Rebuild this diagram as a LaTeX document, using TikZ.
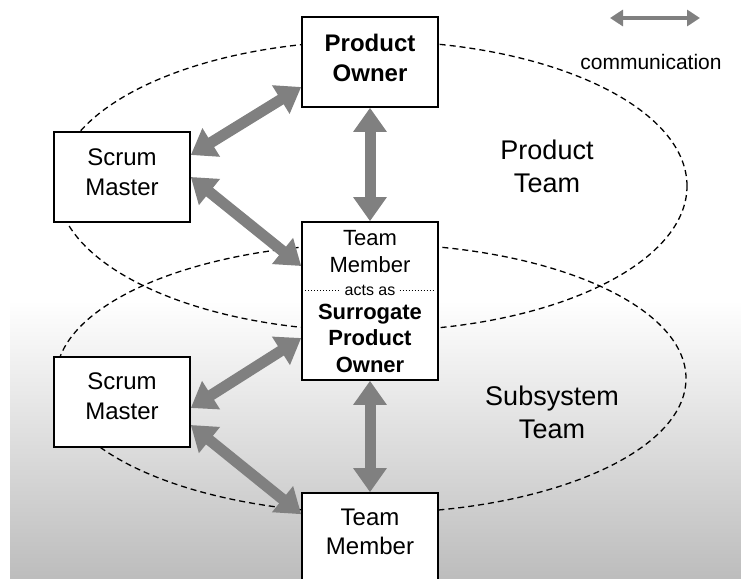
\documentclass[tikz,border=0pt]{standalone}
\usepackage{fontspec}
\setmainfont{Liberation Sans}
\usetikzlibrary{arrows.meta,calc}
\definecolor{arrowgray}{gray}{0.5}
\begin{document}
\begin{tikzpicture}[x=1pt,y=-1pt,
  box/.style={draw=black, line width=1.6pt, fill=white, inner sep=0pt},
  comm/.style={draw=arrowgray, line width=11pt, {Triangle[width=32pt,length=24pt]}-{Triangle[width=32pt,length=24pt]}},
  legendarrow/.style={draw=arrowgray, line width=4pt, {Triangle[width=16pt,length=13pt]}-{Triangle[width=16pt,length=13pt]}},
  teamline/.style={draw=black, line width=1.3pt, dash pattern=on 6pt off 4pt},
  boxtext/.style={align=center, inner sep=0pt, font=\fontsize{24}{29.5}\selectfont},
  midtext/.style={align=center, inner sep=0pt, font=\fontsize{22}{26.5}\selectfont},
  teamlabel/.style={align=center, inner sep=0pt, font=\fontsize{27}{33}\selectfont},
  smalltext/.style={inner sep=0pt, font=\fontsize{16}{18}\selectfont},
  legendtext/.style={inner sep=0pt, font=\fontsize{21}{24}\selectfont}]
\useasboundingbox (0,0) rectangle (741,578);
\clip (0,0) rectangle (741,578);
% background gradient
\shade[top color=white, bottom color=black!26] (10,300) rectangle (741,578);
% team ellipses
\draw[teamline] (372,186) ellipse [x radius=315pt, y radius=145pt];
\draw[teamline] (371,378.5) ellipse [x radius=315pt, y radius=134.6pt];
% boxes
\node[box, minimum width=136pt, minimum height=90pt] (po) at (370,62) {};
\node[box, minimum width=136pt, minimum height=90pt] (sm1) at (122,177) {};
\node[box, minimum width=136pt, minimum height=158pt] (mid) at (370,301) {};
\node[box, minimum width=136pt, minimum height=90pt] (sm2) at (122,402) {};
\node[box, minimum width=136pt, minimum height=120pt] (tm) at (370,553) {};
% box texts
\node[boxtext] (potext) at (370,58) {\bfseries Product\\\bfseries Owner};
\node[boxtext] (sm1text) at (122,172) {Scrum\\Master};
\node[boxtext] (sm2text) at (122,396) {Scrum\\Master};
\node[boxtext] (tmtext) at (370,532) {Team\\Member};
\node[midtext] (midtop) at (370,251.5) {Team\\Member};
\node[smalltext] (acts) at (370,290) {acts as};
\node[midtext] (midbottom) at (370,338) {\bfseries Surrogate\\\bfseries Product\\\bfseries Owner};
\draw[line width=1pt, dotted] ([xshift=4pt]mid.west |- acts.center) -- ([xshift=-4pt]acts.west);
\draw[line width=1pt, dotted] ([xshift=4pt]acts.east) -- ([xshift=-4pt]mid.east |- acts.center);
% team labels
\node[teamlabel] (ptlabel) at (547,166.5) {Product\\Team};
\node[teamlabel] (stlabel) at (552,412) {Subsystem\\Team};
% communication arrows
\draw[comm] ([yshift=-25pt]po.west) -- ([yshift=22pt]sm1.east);
\draw[comm] (sm1.east) -- ([yshift=35pt]mid.west);
\draw[comm] (po.south) -- (mid.north);
\draw[comm] ([yshift=-37pt]mid.west) -- ([yshift=-6pt]sm2.east);
\draw[comm] ([yshift=-23pt]sm2.east) -- ([yshift=-22pt]tm.north west);
\draw[comm] (mid.south) -- (tm.north);
% legend
\coordinate (lgA) at (610,18);
\coordinate (lgB) at (700,18);
\draw[legendarrow] (lgA) -- (lgB);
\node[legendtext] (lgtext) at (651,62) {communication};
\end{tikzpicture}
\end{document}
